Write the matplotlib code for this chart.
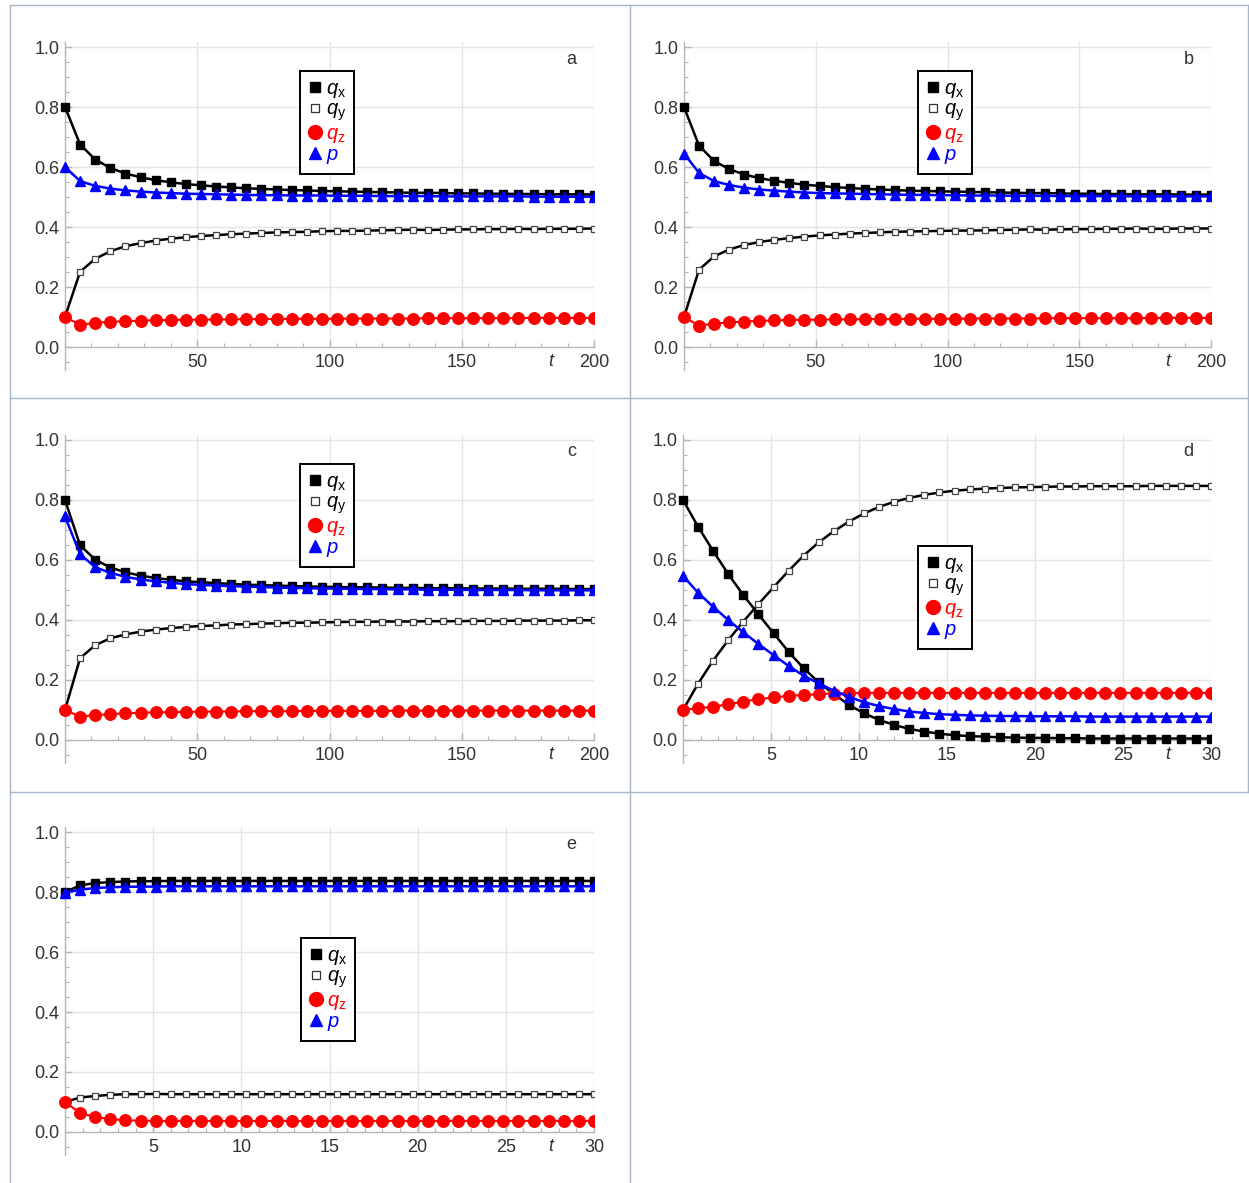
import matplotlib
matplotlib.use('Agg')
import matplotlib.pyplot as plt
from matplotlib.lines import Line2D
from matplotlib.ticker import MultipleLocator
import numpy as np

plt.rcParams['font.family'] = ['Liberation Sans', 'DejaVu Sans']
plt.rcParams['mathtext.fontset'] = 'custom'
plt.rcParams['mathtext.rm'] = 'Liberation Sans'
plt.rcParams['mathtext.it'] = 'Liberation Sans:italic'

W, H = 1249, 1183

# ---------------- data ----------------
t_long = np.linspace(0, 200, 36)
t_short = np.linspace(0, 30, 36)

qx_a = [0.800, 0.675, 0.625, 0.597, 0.578, 0.566, 0.556, 0.549, 0.543, 0.539, 0.535, 0.532,
        0.529, 0.527, 0.525, 0.523, 0.522, 0.520, 0.519, 0.518, 0.517, 0.516, 0.515, 0.514,
        0.514, 0.513, 0.512, 0.512, 0.511, 0.511, 0.510, 0.510, 0.509, 0.509, 0.509, 0.508]
qy_a = [0.100, 0.251, 0.294, 0.319, 0.336, 0.346, 0.355, 0.361, 0.366, 0.370, 0.373, 0.376,
        0.378, 0.380, 0.382, 0.383, 0.384, 0.386, 0.387, 0.387, 0.388, 0.389, 0.390, 0.391,
        0.390, 0.391, 0.392, 0.392, 0.393, 0.393, 0.394, 0.393, 0.394, 0.394, 0.394, 0.395]
qz_a = [0.100, 0.074, 0.081, 0.084, 0.086, 0.088, 0.089, 0.090, 0.091, 0.091, 0.092, 0.092,
        0.093, 0.093, 0.093, 0.094, 0.094, 0.094, 0.094, 0.095, 0.095, 0.095, 0.095, 0.095,
        0.096, 0.096, 0.096, 0.096, 0.096, 0.096, 0.096, 0.097, 0.097, 0.097, 0.097, 0.097]
p_a = [0.600, 0.553, 0.537, 0.528, 0.522, 0.518, 0.515, 0.513, 0.511, 0.510, 0.509, 0.508,
       0.507, 0.506, 0.506, 0.505, 0.505, 0.505, 0.504, 0.504, 0.504, 0.503, 0.503, 0.503,
       0.503, 0.502, 0.502, 0.502, 0.502, 0.502, 0.502, 0.501, 0.501, 0.501, 0.501, 0.501]

qx_b = [0.800, 0.671, 0.620, 0.593, 0.575, 0.563, 0.554, 0.547, 0.541, 0.537, 0.533, 0.530,
        0.527, 0.525, 0.523, 0.521, 0.520, 0.519, 0.518, 0.517, 0.516, 0.515, 0.514, 0.513,
        0.513, 0.512, 0.511, 0.511, 0.510, 0.510, 0.509, 0.509, 0.509, 0.508, 0.508, 0.508]
qy_b = [0.100, 0.258, 0.302, 0.325, 0.340, 0.350, 0.357, 0.363, 0.368, 0.372, 0.375, 0.378,
        0.380, 0.382, 0.384, 0.385, 0.386, 0.387, 0.388, 0.388, 0.389, 0.390, 0.391, 0.392,
        0.391, 0.392, 0.393, 0.393, 0.394, 0.394, 0.395, 0.394, 0.394, 0.395, 0.395, 0.395]
qz_b = [0.100, 0.071, 0.078, 0.082, 0.085, 0.087, 0.089, 0.090, 0.091, 0.091, 0.092, 0.092,
        0.093, 0.093, 0.093, 0.094, 0.094, 0.094, 0.094, 0.095, 0.095, 0.095, 0.095, 0.095,
        0.096, 0.096, 0.096, 0.096, 0.096, 0.096, 0.096, 0.097, 0.097, 0.097, 0.097, 0.097]
p_b = [0.645, 0.580, 0.553, 0.540, 0.531, 0.525, 0.521, 0.518, 0.515, 0.513, 0.512, 0.511,
       0.510, 0.509, 0.508, 0.507, 0.507, 0.506, 0.506, 0.505, 0.505, 0.505, 0.504, 0.504,
       0.504, 0.503, 0.503, 0.503, 0.503, 0.503, 0.502, 0.502, 0.502, 0.502, 0.502, 0.502]

qx_c = [0.800, 0.649, 0.601, 0.575, 0.559, 0.548, 0.540, 0.534, 0.529, 0.526, 0.523, 0.520,
        0.518, 0.516, 0.515, 0.513, 0.512, 0.511, 0.510, 0.509, 0.509, 0.508, 0.507, 0.507,
        0.506, 0.506, 0.506, 0.505, 0.505, 0.505, 0.504, 0.504, 0.504, 0.504, 0.503, 0.503]
qy_c = [0.100, 0.273, 0.316, 0.339, 0.352, 0.361, 0.368, 0.373, 0.377, 0.380, 0.382, 0.385,
        0.386, 0.388, 0.389, 0.391, 0.391, 0.392, 0.393, 0.394, 0.394, 0.395, 0.395, 0.395,
        0.396, 0.396, 0.396, 0.397, 0.397, 0.397, 0.398, 0.398, 0.398, 0.398, 0.399, 0.399]
qz_c = [0.100, 0.078, 0.083, 0.086, 0.089, 0.091, 0.092, 0.093, 0.094, 0.094, 0.095, 0.095,
        0.096, 0.096, 0.096, 0.096, 0.097, 0.097, 0.097, 0.097, 0.097, 0.097, 0.098, 0.098,
        0.098, 0.098, 0.098, 0.098, 0.098, 0.098, 0.098, 0.098, 0.098, 0.098, 0.098, 0.098]
p_c = [0.745, 0.619, 0.576, 0.557, 0.544, 0.535, 0.529, 0.524, 0.520, 0.517, 0.515, 0.513,
       0.511, 0.510, 0.508, 0.507, 0.506, 0.505, 0.505, 0.504, 0.503, 0.503, 0.502, 0.502,
       0.501, 0.501, 0.501, 0.500, 0.500, 0.500, 0.500, 0.499, 0.499, 0.499, 0.499, 0.499]

qx_d = [0.800, 0.711, 0.630, 0.553, 0.483, 0.419, 0.356, 0.294, 0.239, 0.192, 0.153, 0.117,
        0.089, 0.067, 0.050, 0.037, 0.028, 0.021, 0.016, 0.013, 0.011, 0.009, 0.008, 0.007,
        0.007, 0.006, 0.006, 0.005, 0.005, 0.005, 0.005, 0.005, 0.005, 0.005, 0.005, 0.005]
qy_d = [0.100, 0.188, 0.265, 0.333, 0.395, 0.453, 0.509, 0.564, 0.615, 0.659, 0.696, 0.728,
        0.755, 0.777, 0.794, 0.807, 0.817, 0.825, 0.831, 0.835, 0.838, 0.840, 0.842, 0.843,
        0.844, 0.845, 0.845, 0.846, 0.846, 0.846, 0.846, 0.847, 0.847, 0.847, 0.847, 0.847]
qz_d = [0.100, 0.106, 0.111, 0.119, 0.128, 0.136, 0.142, 0.147, 0.150, 0.153, 0.155, 0.156,
        0.157, 0.157, 0.157, 0.157, 0.157, 0.157, 0.157, 0.157, 0.157, 0.157, 0.157, 0.157,
        0.157, 0.157, 0.157, 0.157, 0.157, 0.157, 0.157, 0.157, 0.157, 0.157, 0.157, 0.157]
p_d = [0.547, 0.491, 0.444, 0.400, 0.359, 0.320, 0.283, 0.247, 0.214, 0.189, 0.164, 0.144,
       0.126, 0.113, 0.103, 0.095, 0.090, 0.086, 0.084, 0.082, 0.081, 0.080, 0.080, 0.079,
       0.079, 0.079, 0.079, 0.078, 0.078, 0.078, 0.078, 0.078, 0.078, 0.078, 0.078, 0.078]

qx_e = [0.800, 0.822, 0.830, 0.833, 0.835, 0.836, 0.836, 0.837, 0.837, 0.837, 0.837, 0.837,
        0.837, 0.837, 0.837, 0.837, 0.837, 0.837, 0.837, 0.837, 0.837, 0.837, 0.837, 0.837,
        0.837, 0.837, 0.837, 0.837, 0.837, 0.837, 0.837, 0.837, 0.837, 0.837, 0.837, 0.837]
qy_e = [0.100, 0.115, 0.120, 0.124, 0.126, 0.126, 0.127, 0.126, 0.126, 0.126, 0.126, 0.126,
        0.126, 0.126, 0.126, 0.126, 0.126, 0.126, 0.126, 0.126, 0.126, 0.126, 0.126, 0.126,
        0.126, 0.126, 0.126, 0.126, 0.126, 0.126, 0.126, 0.126, 0.126, 0.126, 0.126, 0.126]
qz_e = [0.100, 0.063, 0.050, 0.043, 0.039, 0.038, 0.037, 0.037, 0.037, 0.037, 0.037, 0.037,
        0.037, 0.037, 0.037, 0.037, 0.037, 0.037, 0.037, 0.037, 0.037, 0.037, 0.037, 0.037,
        0.037, 0.037, 0.037, 0.037, 0.037, 0.037, 0.037, 0.037, 0.037, 0.037, 0.037, 0.037]
p_e = [0.798, 0.808, 0.813, 0.816, 0.817, 0.818, 0.818, 0.819, 0.819, 0.819, 0.819, 0.819,
       0.819, 0.819, 0.819, 0.819, 0.819, 0.819, 0.819, 0.819, 0.819, 0.819, 0.819, 0.819,
       0.819, 0.819, 0.819, 0.819, 0.819, 0.819, 0.819, 0.819, 0.819, 0.819, 0.819, 0.819]

panel_letters = ['a', 'b', 'c', 'd', 'e']
legend_labels = [r'$q_{\mathrm{x}}$', r'$q_{\mathrm{y}}$', r'$q_{\mathrm{z}}$', r'$p$']
y_ticks = [0.0, 0.2, 0.4, 0.6, 0.8, 1.0]
x_ticks_long = [50, 100, 150, 200]
x_ticks_short = [5, 10, 15, 20, 25, 30]

# ---------------- layout (pixels) ----------------
# (x at t=0, x at t=max, y at value 0, y at value 1, t max, legend upper-left)
layouts = [
    (65, 594, 347, 47, 200, (300, 71)),
    (684, 1211, 347, 47, 200, (918, 71)),
    (65, 594, 740, 440, 200, (300, 464)),
    (683, 1211, 740, 440, 30, (918, 546)),
    (65, 594, 1132, 832, 30, (301, 938)),
]
series_sets = [
    (t_long, qx_a, qy_a, qz_a, p_a),
    (t_long, qx_b, qy_b, qz_b, p_b),
    (t_long, qx_c, qy_c, qz_c, p_c),
    (t_short, qx_d, qy_d, qz_d, p_d),
    (t_short, qx_e, qy_e, qz_e, p_e),
]

YLO, YHI = -0.075, 1.017
TXT = '#333333'
AXC = '#b5b5b5'
GRID = '#e4e4e4'
FS = 13

fig = plt.figure(figsize=(W / 100, H / 100), dpi=100)
fig.patch.set_facecolor('white')

# table cell borders
bc = '#a7b6c6'
def fline(x0, y0, x1, y1):
    fig.add_artist(Line2D([x0 / W, x1 / W], [1 - y0 / H, 1 - y1 / H],
                          transform=fig.transFigure, color=bc, lw=1.0))
fline(10, 5, 1248, 5)
fline(10, 398, 1248, 398)
fline(10, 792, 1248, 792)
fline(10, 5, 10, 1183)
fline(630, 5, 630, 1183)
fline(1248, 5, 1248, 792)

for letter, (x0, x1, y0, y1, tmax, lpos), (t, qx, qy, qz, p) in zip(panel_letters, layouts, series_sets):
    ppu = (x1 - x0) / tmax
    padpx = 8
    left = x0 - padpx
    vpu = (y0 - y1)
    bottom = y0 - YLO * vpu
    top = y0 - YHI * vpu
    ax = fig.add_axes([left / W, 1 - bottom / H, (x1 - left) / W, (bottom - top) / H])
    ax.set_xlim(-padpx / ppu, tmax)
    ax.set_ylim(YLO, YHI)
    ax.patch.set_alpha(0)

    xt = x_ticks_long if tmax == 200 else x_ticks_short
    # grid
    ax.vlines(xt, 0, YHI, colors=GRID, lw=1.0, zorder=0)
    ax.hlines(y_ticks[1:], 0, tmax, colors=GRID, lw=1.0, zorder=0)

    for s in ['top', 'right']:
        ax.spines[s].set_visible(False)
    ax.spines['left'].set_position(('data', 0))
    ax.spines['bottom'].set_position(('data', 0))
    ax.spines['bottom'].set_bounds(0, tmax)
    for s in ['left', 'bottom']:
        ax.spines[s].set_color(AXC)
        ax.spines[s].set_linewidth(1.0)

    ax.set_xticks(xt)
    ax.set_xticklabels([str(v) for v in xt])
    ax.set_yticks(y_ticks)
    ax.set_yticklabels(['%.1f' % v for v in y_ticks])
    ax.xaxis.set_minor_locator(MultipleLocator(10 if tmax == 200 else 1))
    ax.yaxis.set_minor_locator(MultipleLocator(0.05))
    ax.tick_params(which='major', direction='in', length=5, width=1, color=AXC,
                   labelsize=FS, labelcolor=TXT, pad=4)
    ax.tick_params(axis='x', which='major', pad=5)
    ax.tick_params(which='minor', direction='in', length=3, width=0.8, color=AXC)

    # series
    ax.plot(t, qx, color='black', lw=1.8, marker='s', ms=5.8, mfc='black', mec='black', zorder=3)
    ax.plot(t, qy, color='black', lw=1.8, marker='s', ms=5.0, mfc='white', mec='#444444',
            mew=0.9, zorder=3)
    ax.plot(t, qz, color='red', lw=1.5, marker='o', ms=8.3, mfc='red', mec='red', zorder=4)
    ax.plot(t, p, color='blue', lw=1.8, marker='^', ms=7.2, mfc='blue', mec='blue', zorder=5)

    # t label and panel letter
    ax.annotate('t', xy=(0.918 * tmax, 0), xytext=(0, -4.5), textcoords='offset points',
                ha='center', va='top', fontsize=FS, style='italic', color=TXT)
    ax.text(0.957 * tmax, 0.96, letter, ha='center', va='center', fontsize=FS, color=TXT)

    handles = [
        Line2D([], [], ls='none', marker='s', ms=6.5, color='black'),
        Line2D([], [], ls='none', marker='s', ms=6, mfc='white', mec='#333333', mew=0.9),
        Line2D([], [], ls='none', marker='o', ms=10, color='red'),
        Line2D([], [], ls='none', marker='^', ms=8.5, color='blue'),
    ]
    leg = ax.legend(handles, legend_labels, loc='upper left',
                    bbox_to_anchor=(lpos[0] / W, 1 - lpos[1] / H),
                    bbox_transform=fig.transFigure, borderaxespad=0,
                    fontsize=14.5, handlelength=0.7, handletextpad=0.2,
                    labelspacing=0.02, borderpad=0.38, fancybox=False, framealpha=1)
    leg.get_frame().set_edgecolor('black')
    leg.get_frame().set_linewidth(1.4)
    for txt, c in zip(leg.get_texts(), ['black', 'black', 'red', 'blue']):
        txt.set_color(c)

fig.savefig('out.png', dpi=100)
